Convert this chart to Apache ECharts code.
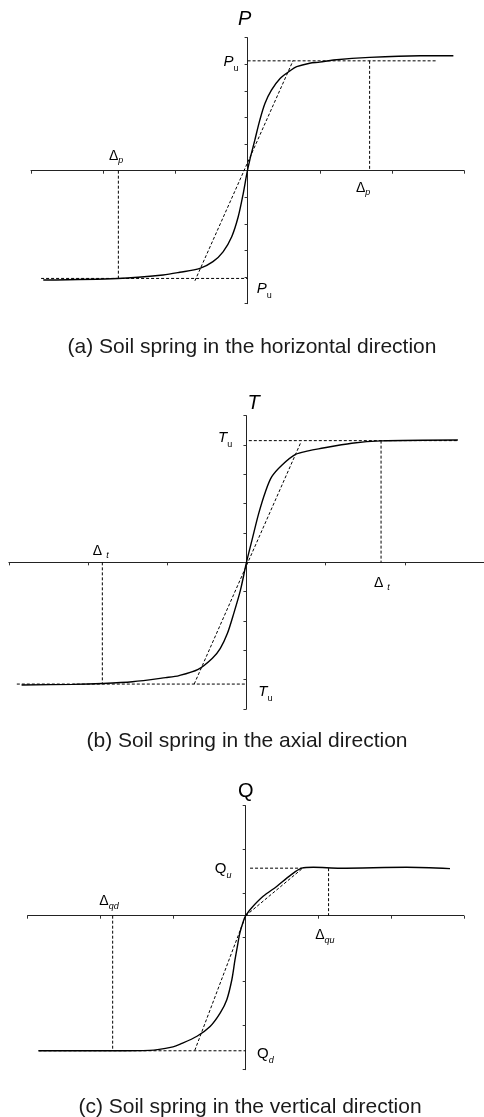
<!DOCTYPE html>
<html>
<head>
<meta charset="utf-8">
<script src="https://cdn.jsdelivr.net/npm/echarts@6/dist/echarts.min.js"></script>
<style>
  html, body { margin: 0; padding: 0; background: #fff; }
  #chart { width: 484px; height: 1117px; }
</style>
</head>
<body>
<div id="chart"></div>
<script>
// (a) horizontal spring, units = tick steps
const hCurve = [[-2.83, -4.11], [-1.80, -4.05], [-1.17, -3.92], [-0.94, -3.82], [-0.66, -3.67], [-0.48, -3.42],
  [-0.34, -3.05], [-0.22, -2.48], [-0.13, -1.73], [-0.06, -0.85], [-0.01, -0.10], [0.03, 0.40], [0.10, 1.15],
  [0.17, 1.91], [0.24, 2.53], [0.33, 3.03], [0.45, 3.47], [0.59, 3.76], [0.68, 3.91], [0.86, 4.04], [1.0, 4.08],
  [1.19, 4.16], [1.69, 4.26], [2.39, 4.32], [2.85, 4.32]]
const hSecant = [[-0.73, -4.14], [0.63, 4.14]]
const hUltTop = [[0, 4.13], [2.63, 4.13]]
const hUltBottom = [[-2.86, -4.05], [0, -4.05]]
const hDispRight = [[1.69, 4.13], [1.69, 0]]
const hDispLeft = [[-1.79, 0], [-1.79, -4.05]]
const hLabels = [[-0.04, 5.67, "{big|P}"], [-0.23, 4.09, "{m|P}{s|u}"], [-1.82, 0.55, "{d|Δ}{si|p}"],
  [1.60, -0.65, "{d|Δ}{si|p}"], [0.23, -4.45, "{m|P}{s|u}"]]

// (b) axial spring
const aCurve = [[-2.84, -4.18], [-2.19, -4.16], [-1.82, -4.13], [-1.44, -4.07], [-1.02, -3.93], [-0.85, -3.86],
  [-0.61, -3.65], [-0.43, -3.27], [-0.33, -2.93], [-0.24, -2.42], [-0.16, -1.74], [-0.075, -0.94], [0, 0],
  [0.07, 0.76], [0.155, 1.67], [0.24, 2.41], [0.32, 2.92], [0.45, 3.32], [0.62, 3.68], [0.78, 3.80], [0.91, 3.87],
  [1.33, 4.06], [1.70, 4.14], [2.67, 4.17]]
const aSecant = [[-0.66, -4.15], [0.69, 4.11]]
const aUltTop = [[0.03, 4.15], [2.67, 4.15]]
const aUltBottom = [[-2.90, -4.15], [0, -4.15]]
const aDispRight = [[1.70, 4.15], [1.70, 0]]
const aDispLeft = [[-1.82, 0], [-1.82, -4.15]]
const aLabels = [[0.09, 5.42, "{big|T}"], [-0.27, 4.24, "{m|T}{s|u}"], [-1.84, 0.39, "{d|Δ}{st|t}"],
  [1.71, -0.71, "{d|Δ}{st|t}"], [0.24, -4.42, "{m|T}{s|u}"]]

// (c) vertical spring
const vCurve = [[-2.85, -3.07], [-1.83, -3.07], [-1.32, -3.06], [-1.0, -2.98], [-0.90, -2.92], [-0.67, -2.74],
  [-0.49, -2.52], [-0.35, -2.21], [-0.26, -1.91], [-0.19, -1.45], [-0.147, -1.0], [-0.115, -0.70], [-0.08, -0.39],
  [-0.033, -0.13], [0, 0], [0.08, 0.175], [0.24, 0.44], [0.43, 0.67], [0.61, 0.91], [0.77, 1.08], [0.93, 1.10],
  [1.30, 1.08], [2.21, 1.10], [2.81, 1.07]]
const vSecantDown = [[-0.70, -3.06], [0, 0]]
const vSecantUp = [[0, 0], [0.77, 1.06]]
const vUltTop = [[0.06, 1.08], [0.77, 1.08]]
const vUltBottom = [[-2.85, -3.07], [0, -3.07]]
const vDispRight = [[1.14, 1.08], [1.14, 0]]
const vDispLeft = [[-1.83, 0], [-1.83, -3.07]]
const vLabels = [[0, 2.83, "{bigU|Q}"], [-0.31, 1.07, "{mu|Q}{si|u}"], [-1.88, 0.32, "{d|Δ}{si|qd}"],
  [1.09, -0.45, "{d|Δ}{si|qu}"], [0.27, -3.14, "{mu|Q}{si|d}"]]

const captions = [[252, 347, "(a) Soil spring in the horizontal direction"],
  [247, 741, "(b) Soil spring in the axial direction"],
  [250, 1107, "(c) Soil spring in the vertical direction"]]

const FONT = "\"Liberation Sans\", Arial, sans-serif"
const INK = "#000"
const rich = {
  big: { fontSize: 20, fontStyle: "italic", fontFamily: FONT, color: INK },
  bigU: { fontSize: 20, fontFamily: FONT, color: INK },
  m: { fontSize: 15, fontStyle: "italic", lineHeight: 22, fontFamily: FONT, color: INK },
  mu: { fontSize: 15, lineHeight: 22, fontFamily: FONT, color: INK },
  d: { fontSize: 14, lineHeight: 18, fontFamily: FONT, color: INK },
  s: { fontSize: 9, verticalAlign: "bottom", fontFamily: FONT, color: INK },
  si: { fontSize: 9, fontStyle: "italic", verticalAlign: "bottom", fontFamily: FONT, color: INK },
  st: { fontSize: 9, fontStyle: "italic", verticalAlign: "bottom", padding: [0, 0, 0, 4], fontFamily: FONT, color: INK }
}

const chart = echarts.init(document.getElementById("chart"), null, { renderer: "canvas" })

const solid = (data, i) => ({
  type: "line", xAxisIndex: i, yAxisIndex: i, data, smooth: 0.3, showSymbol: false, silent: true,
  lineStyle: { color: "#000", width: 1.4 }
})
const dashed = (data, i) => ({
  type: "line", xAxisIndex: i, yAxisIndex: i, data, showSymbol: false, silent: true,
  lineStyle: { color: "#000", width: 1, type: [3, 2] }
})
const labels = (data, i) => ({
  type: "scatter", xAxisIndex: i, yAxisIndex: i, symbolSize: 1, clip: false, silent: true,
  itemStyle: { color: "#fff", opacity: 0 },
  data: data.map(d => ({ value: [d[0], d[1]], label: { formatter: d[2] } })),
  label: { show: true, position: "inside", color: INK, opacity: 1, textBorderWidth: 0, rich }
})

const axisCommon = {
  type: "value", interval: 1,
  axisLabel: { show: false }, splitLine: { show: false },
  axisLine: { onZero: true, lineStyle: { color: "#222", width: 1 } },
  axisTick: { show: true, length: 3, lineStyle: { color: "#333" } }
}

let option = {
  animation: false,
  backgroundColor: "#fff",
  textStyle: { fontFamily: FONT },
  grid: [
    { left: 31, top: 37.7, width: 433.2, height: 266 },
    { left: 8.9, top: 415.7, width: 477.6, height: 293.3 },
    { left: 27.6, top: 805.7, width: 436.2, height: 264 }
  ],
  xAxis: [
    { ...axisCommon, gridIndex: 0, min: -3, max: 3 },
    { ...axisCommon, gridIndex: 1, min: -3, max: 3 },
    { ...axisCommon, gridIndex: 2, min: -3, max: 3 }
  ],
  yAxis: [
    { ...axisCommon, gridIndex: 0, min: -5, max: 5 },
    { ...axisCommon, gridIndex: 1, min: -5, max: 5 },
    { ...axisCommon, gridIndex: 2, min: -3.5, max: 2.5 }
  ],
  graphic: captions.map(c => ({
    type: "text", x: c[0], y: c[1], silent: true,
    style: { text: c[2], font: "21px " + FONT, fill: "#1a1a1a", align: "center", verticalAlign: "middle" }
  })),
  series: [
    dashed(hSecant, 0), dashed(hUltTop, 0), dashed(hUltBottom, 0), dashed(hDispRight, 0), dashed(hDispLeft, 0),
    solid(hCurve, 0), labels(hLabels, 0),
    dashed(aSecant, 1), dashed(aUltTop, 1), dashed(aUltBottom, 1), dashed(aDispRight, 1), dashed(aDispLeft, 1),
    solid(aCurve, 1), labels(aLabels, 1),
    dashed(vSecantDown, 2), dashed(vSecantUp, 2), dashed(vUltTop, 2), dashed(vUltBottom, 2),
    dashed(vDispRight, 2), dashed(vDispLeft, 2),
    solid(vCurve, 2), labels(vLabels, 2)
  ]
}
chart.setOption(option)
</script>
</body>
</html>
